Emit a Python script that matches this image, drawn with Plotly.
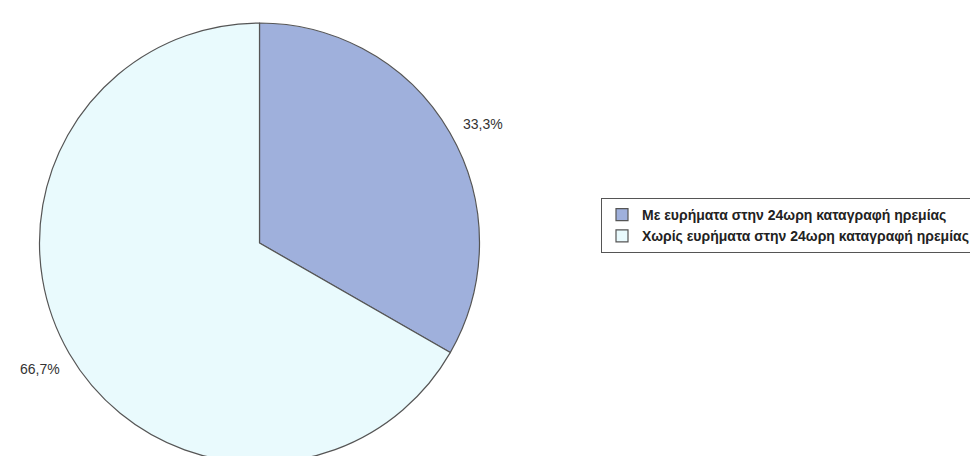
import plotly.graph_objects as go

labels = ["Με ευρήματα στην 24ωρη καταγραφή ηρεμίας",
          "Χωρίς ευρήματα στην 24ωρη καταγραφή ηρεμίας"]
values = [33.3, 66.7]
pct_labels = ["33,3%", "66,7%"]
colors = ["#9FB0DC", "#E9FAFD"]

W, H = 978, 456
cx, cy, r = 251.5, 235, 220

fig = go.Figure(go.Pie(
    labels=labels,
    values=values,
    sort=False,
    direction="clockwise",
    rotation=0,
    marker=dict(colors=colors, line=dict(color="#555555", width=1.2)),
    textinfo="none",
    domain=dict(x=[(cx - r) / W, (cx + r) / W], y=[1 - (cy + r) / H, 1 - (cy - r) / H]),
    showlegend=True,
    hoverinfo="label+percent",
))

# percentage labels placed outside the slices (Excel-style)
label_pos = [(453, 116), (10, 361)]
for txt, (px, py) in zip(pct_labels, label_pos):
    fig.add_annotation(
        x=px / W, y=1 - py / H, xref="paper", yref="paper",
        text=txt, showarrow=False, xanchor="left", yanchor="middle",
        font=dict(family="Arial, Liberation Sans, sans-serif", size=14, color="#333333"),
    )

fig.update_layout(
    width=W, height=H,
    margin=dict(l=0, r=0, t=0, b=0, autoexpand=False),
    paper_bgcolor="white",
    plot_bgcolor="white",
    separators=",.",
    legend=dict(
        x=593 / W, y=1 - 190 / H, xanchor="left", yanchor="top",
        bordercolor="#555555", borderwidth=1,
        font=dict(family="Arial, Liberation Sans, sans-serif", size=14, color="#222222", weight="bold"),
        itemwidth=30, tracegroupgap=0,
        bgcolor="white",
    ),
)

fig.write_html("out.html")
